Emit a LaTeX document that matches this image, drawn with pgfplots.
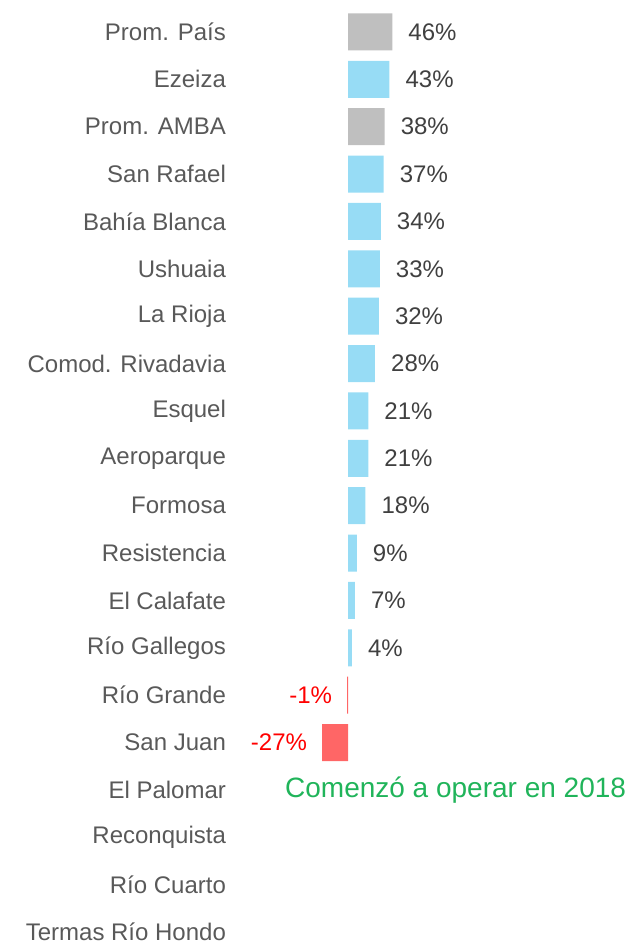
\documentclass[border=0pt]{standalone}
\usepackage{pgfplots}
\pgfplotsset{compat=1.18}
\usepackage{fontspec}
\setmainfont{Liberation Sans}
\definecolor{bargray}{RGB}{191,191,191}
\definecolor{barblue}{RGB}{151,220,245}
\definecolor{barred}{RGB}{255,102,102}
\definecolor{valgray}{RGB}{64,64,64}
\definecolor{catgray}{RGB}{89,89,89}
\definecolor{notegreen}{RGB}{32,180,90}
\begin{document}
\begin{tikzpicture}
\begin{axis}[
  scale only axis,
  width=634pt, height=943pt,
  xmin=-362.5, xmax=297.9,
  ymin=-0.6755, ymax=19.232,
  y dir=reverse,
  xbar, bar shift=0pt, bar width=37pt,
  clip=false,
  axis line style={draw=none},
  major tick length=0pt,
  xtick=\empty,
  ytick={0,...,19},
  yticklabels={Prom. País,Ezeiza,Prom. AMBA,San Rafael,Bahía Blanca,Ushuaia,La Rioja,Comod. Rivadavia,Esquel,Aeroparque,Formosa,Resistencia,El Calafate,Río Gallegos,Río Grande,San Juan,El Palomar,Reconquista,Río Cuarto,Termas Río Hondo},
  yticklabel style={anchor=east, inner sep=0pt, xshift=226pt, text=catgray, font=\fontsize{24}{24}\selectfont},
  point meta=explicit symbolic,
  nodes near coords,
]
\addplot[draw=none, fill=bargray, bar shift=0pt,
  every node near coord/.style={anchor=west, inner sep=0pt, xshift=16pt, text=valgray, font=\fontsize{24}{24}\selectfont}]
  coordinates {(46,0) [46\%] (38,2) [38\%]};
\addplot[draw=none, fill=barblue, bar shift=0pt,
  every node near coord/.style={anchor=west, inner sep=0pt, xshift=16pt, text=valgray, font=\fontsize{24}{24}\selectfont}]
  coordinates {(43,1) [43\%] (37,3) [37\%] (34,4) [34\%] (33,5) [33\%] (32,6) [32\%] (28,7) [28\%] (21,8) [21\%] (21,9) [21\%] (18,10) [18\%] (9,11) [9\%] (7,12) [7\%] (4,13) [4\%]};
\addplot[draw=none, fill=barred, bar shift=0pt,
  every node near coord/.style={anchor=east, inner sep=0pt, xshift=-15pt, text=red, font=\fontsize{24}{24}\selectfont}]
  coordinates {(-1,14) [-1\%] (-27,15) [-27\%]};
\node[anchor=west, inner sep=0pt, text=notegreen, font=\fontsize{28}{28}\selectfont] at (axis cs:-65.8,16) {Comenzó a operar en 2018};
\end{axis}
\end{tikzpicture}
\end{document}
